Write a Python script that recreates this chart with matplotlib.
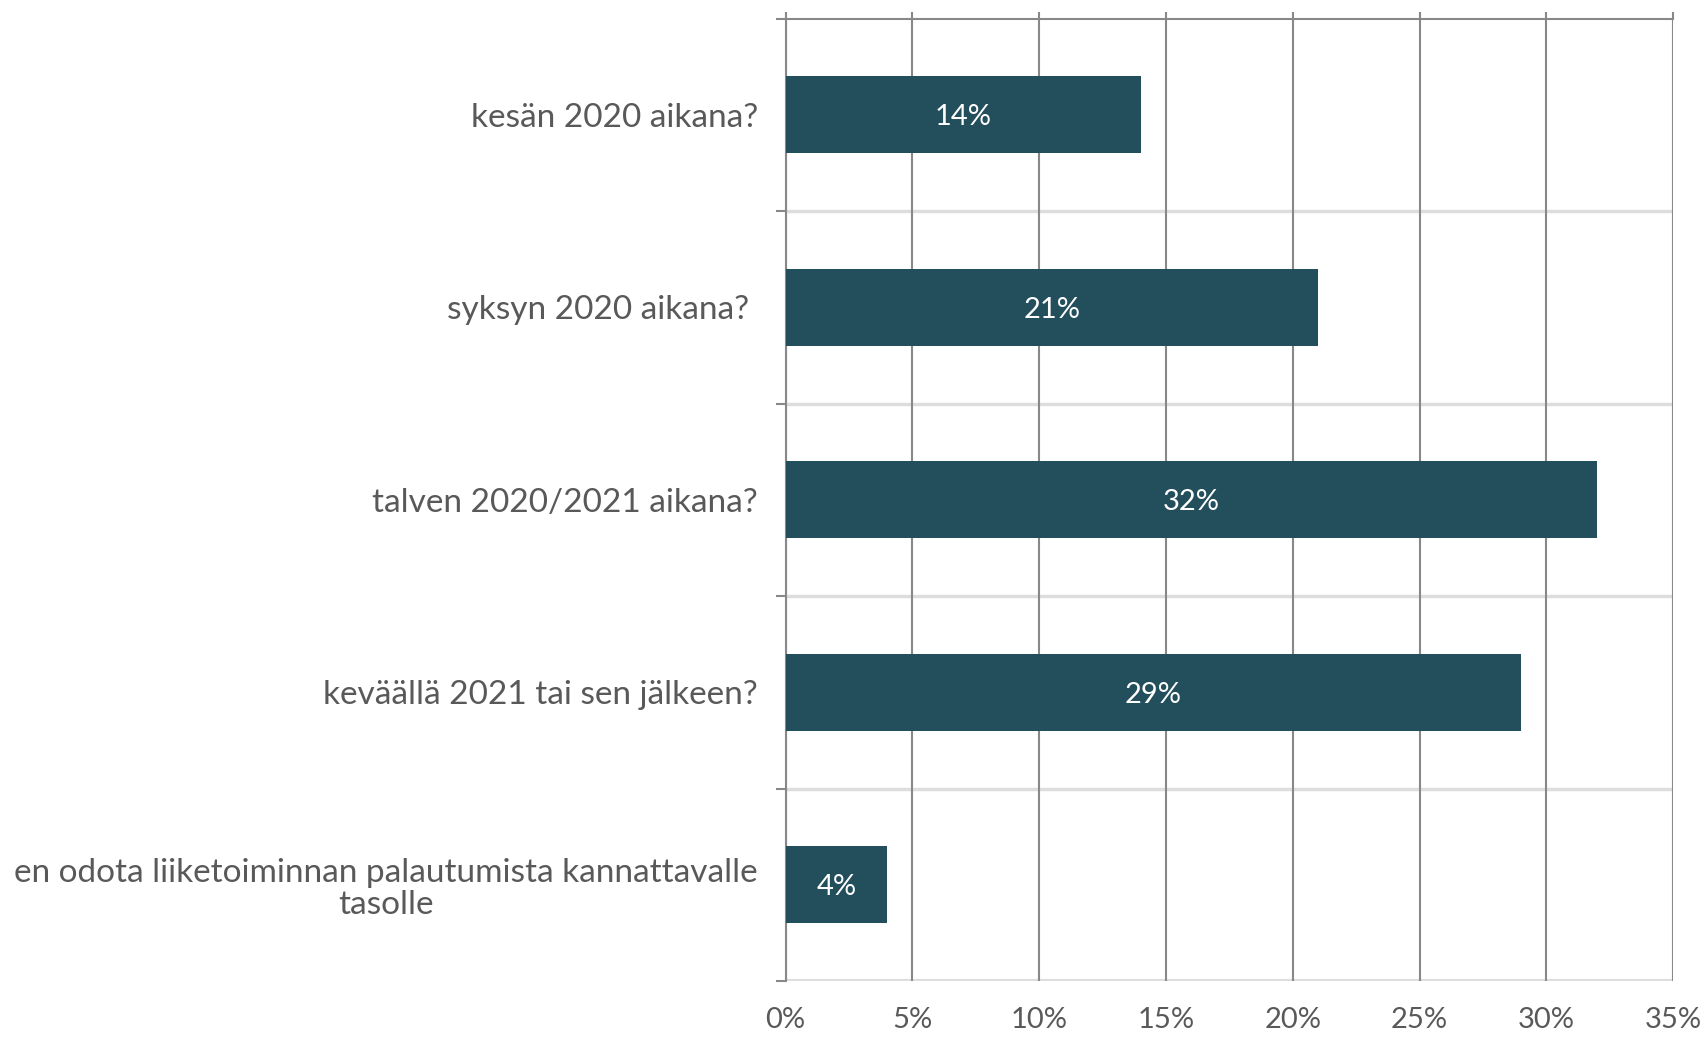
import matplotlib
matplotlib.use("Agg")
import matplotlib.pyplot as plt
import numpy as np

categories = [
    "kesän 2020 aikana?",
    "syksyn 2020 aikana? ",
    "talven 2020/2021 aikana?",
    "keväällä 2021 tai sen jälkeen?",
    "en odota liiketoiminnan palautumista kannattavalle\ntasolle",
]
values = [14, 21, 32, 29, 4]
xticks = [0, 5, 10, 15, 20, 25, 30, 35]
xticklabels = ["0%", "5%", "10%", "15%", "20%", "25%", "30%", "35%"]

plt.rcParams['font.family'] = ['Lato', 'DejaVu Sans']
text_color = "#595959"
bar_color = "#234E5C"

fig = plt.figure(figsize=(17.06, 10.37), dpi=100)
ax = fig.add_axes([0.4605, 0.054, 0.5202, 0.928])

y = np.arange(len(categories))
ax.barh(y, values, height=0.4, color=bar_color, zorder=3)
for yi, v in zip(y, values):
    ax.text(v / 2, yi, f"{v}%", color="white", ha="center", va="center_baseline",
            fontsize=21, zorder=4)

ax.set_xlim(0, 35)
ax.set_ylim(len(categories) - 0.5, -0.5)
ax.set_xticks(xticks)
ax.set_xticklabels(xticklabels, fontsize=21, color=text_color)
ax.tick_params(axis='x', top=True, bottom=False, labeltop=False, labelbottom=True,
               direction='out', length=5, color="#888888", width=1.5, pad=14)

ax.set_yticks(y)
ax.set_yticklabels(categories, fontsize=24, color=text_color, multialignment='center',
                   linespacing=1.1)
ax.tick_params(axis='y', which='major', length=0, pad=20)
ax.set_yticks(np.arange(-0.5, len(categories), 1.0), minor=True)
ax.tick_params(axis='y', which='minor', length=7, color="#888888", width=1.5, direction='out')

ax.grid(axis='x', color="#888888", linewidth=1.5, zorder=1)
for b in np.arange(0.5, len(categories) - 0.5, 1.0):
    ax.axhline(b, color="#dddddd", linewidth=2.5, zorder=0)
ax.axhline(len(categories) - 0.5, color="#dddddd", linewidth=3, zorder=0)

for s in ['right', 'bottom']:
    ax.spines[s].set_visible(False)
ax.spines['left'].set_color("#888888")
ax.spines['left'].set_linewidth(1.5)
ax.spines['top'].set_color("#888888")
ax.spines['top'].set_linewidth(1.5)

fig.savefig("out.png", dpi=100, facecolor="white")
